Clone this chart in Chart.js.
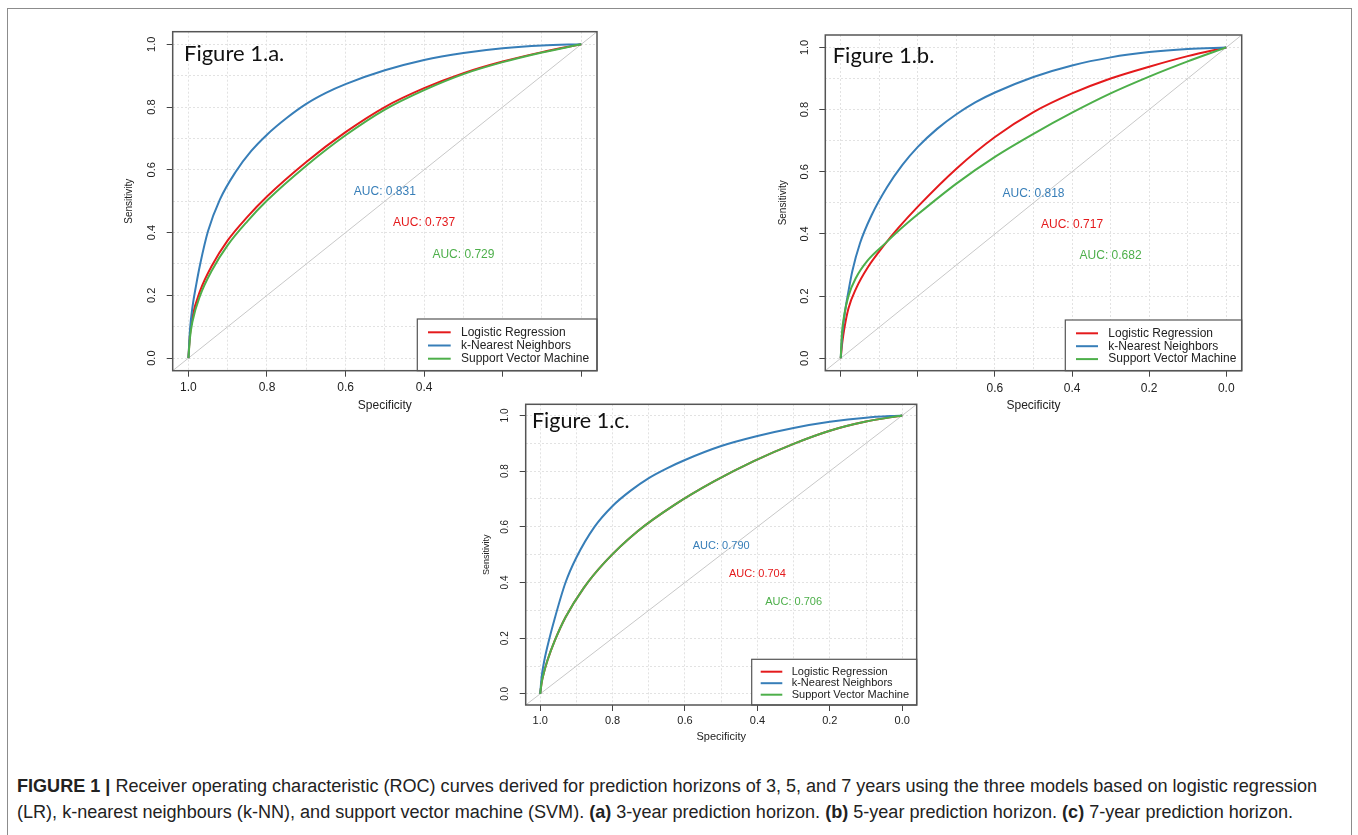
<!DOCTYPE html>
<html lang="en">
<head>
<meta charset="UTF-8">
<title>Figure 1 - ROC curves</title>
<script src="https://cdn.jsdelivr.net/npm/chart.js"></script>
<style>
  body {
    margin: 0;
    background: #fff;
    width: 1358px;
    height: 835px;
    overflow: hidden;
    position: relative;
    font-family: "Liberation Sans", Arial, sans-serif;
  }
  .frame {
    position: absolute;
    left: 7px;
    top: 8px;
    width: 1343px;
    height: 900px;
    border: 1px solid #8c8c8c;
  }
  canvas { position: absolute; }
  .caption {
    position: absolute;
    left: 17px;
    color: #222;
    white-space: nowrap;
    font-size: 16px;
    line-height: 26px;
  }
</style>
</head>
<body>
<div class="frame"></div>
<canvas id="figA"></canvas>
<canvas id="figB"></canvas>
<canvas id="figC"></canvas>
<div class="caption" id="cap1" style="top:773px"><b>FIGURE 1 |</b> Receiver operating characteristic (ROC) curves derived for prediction horizons of 3, 5, and 7 years using the three models based on logistic regression</div>
<div class="caption" id="cap2" style="top:799px">(LR), k-nearest neighbours (k-NN), and support vector machine (SVM). <b>(a)</b> 3-year prediction horizon. <b>(b)</b> 5-year prediction horizon. <b>(c)</b> 7-year prediction horizon.</div>

<script>
    const models = ['Logistic Regression', 'k-Nearest Neighbors', 'Support Vector Machine'];
    const colors = ['#e41a1c', '#377eb8', '#4daf4a'];

    // points are [specificity, sensitivity]
    const rocA_LR = [[1,0],[0.996,0.075],[0.99,0.13],[0.97,0.215],[0.94,0.295],[0.9,0.375],[0.85,0.45],[0.8,0.515],[0.7,0.625],[0.6,0.72],[0.5,0.8],[0.4,0.86],[0.3,0.908],[0.2,0.945],[0.1,0.975],[0,1]];
    const rocA_KNN = [[1,0],[0.996,0.09],[0.99,0.16],[0.98,0.235],[0.97,0.3],[0.95,0.405],[0.92,0.505],[0.88,0.593],[0.84,0.66],[0.8,0.712],[0.75,0.765],[0.7,0.81],[0.65,0.845],[0.6,0.873],[0.5,0.917],[0.4,0.95],[0.3,0.972],[0.2,0.987],[0.1,0.996],[0,1]];
    const rocA_SVM = [[1,0],[0.996,0.065],[0.99,0.115],[0.97,0.2],[0.94,0.28],[0.9,0.36],[0.85,0.436],[0.8,0.502],[0.7,0.613],[0.6,0.71],[0.5,0.792],[0.4,0.854],[0.3,0.905],[0.2,0.943],[0.1,0.974],[0,1]];
    const aucA = ['AUC: 0.737', 'AUC: 0.831', 'AUC: 0.729'];

    const rocB_LR = [[1,0],[0.996,0.05],[0.99,0.1],[0.98,0.16],[0.96,0.225],[0.93,0.292],[0.886,0.366],[0.85,0.42],[0.8,0.488],[0.7,0.61],[0.6,0.712],[0.5,0.792],[0.4,0.852],[0.3,0.9],[0.2,0.938],[0.1,0.972],[0,1]];
    const rocB_KNN = [[1,0],[0.996,0.077],[0.99,0.14],[0.98,0.215],[0.97,0.28],[0.95,0.37],[0.92,0.46],[0.88,0.55],[0.84,0.622],[0.8,0.68],[0.75,0.738],[0.7,0.785],[0.65,0.824],[0.6,0.855],[0.5,0.905],[0.4,0.942],[0.3,0.968],[0.2,0.985],[0.1,0.995],[0,1]];
    const rocB_SVM = [[1,0],[0.997,0.077],[0.99,0.145],[0.98,0.2],[0.96,0.26],[0.93,0.315],[0.886,0.368],[0.85,0.41],[0.8,0.463],[0.7,0.562],[0.6,0.648],[0.5,0.722],[0.4,0.79],[0.3,0.852],[0.2,0.906],[0.1,0.955],[0,1]];
    const aucB = ['AUC: 0.717', 'AUC: 0.818', 'AUC: 0.682'];

    const rocC_LR = [[1,0],[0.996,0.04],[0.99,0.075],[0.98,0.12],[0.96,0.19],[0.93,0.275],[0.88,0.38],[0.82,0.475],[0.73,0.585],[0.63,0.678],[0.52,0.763],[0.41,0.836],[0.3,0.898],[0.2,0.945],[0.1,0.978],[0,1]];
    const rocC_KNN = [[1,0],[0.996,0.06],[0.99,0.11],[0.98,0.17],[0.96,0.27],[0.93,0.4],[0.9,0.49],[0.85,0.6],[0.8,0.675],[0.75,0.73],[0.7,0.775],[0.65,0.81],[0.6,0.84],[0.5,0.89],[0.4,0.926],[0.3,0.955],[0.2,0.977],[0.1,0.992],[0,1]];
    const rocC_SVM = [[1,0],[0.996,0.04],[0.99,0.075],[0.98,0.12],[0.96,0.19],[0.93,0.275],[0.88,0.38],[0.82,0.475],[0.73,0.585],[0.63,0.678],[0.52,0.763],[0.41,0.836],[0.3,0.898],[0.2,0.945],[0.1,0.978],[0,1]];
    const aucC = ['AUC: 0.704', 'AUC: 0.790', 'AUC: 0.706'];

    // where the AUC texts sit, in data units (LR, kNN, SVM)
    const aucSpec = [0.4, 0.5, 0.3];
    const aucSens = [0.43, 0.53, 0.33];

    const diagonal = [[1.04,-0.04],[-0.04,1.04]];
    const gridValues = [0, 0.1, 0.2, 0.3, 0.4, 0.5, 0.6, 0.7, 0.8, 0.9, 1];
    const tickValues = [0, 0.2, 0.4, 0.6, 0.8, 1];
    const tickLabels = ['0.0', '0.2', '0.4', '0.6', '0.8', '1.0'];
    const xLabelsA = ['1.0', '0.8', '0.6', '0.4'];
    const xLabelsB = ['0.6', '0.4', '0.2', '0.0'];
    const xLabelsC = ['1.0', '0.8', '0.6', '0.4', '0.2', '0.0'];

    const family = '"Liberation Sans", Arial, sans-serif';
    const isMajor = v => Math.abs(v * 5 - Math.round(v * 5)) < 1e-6;

    const panels = [
        { id: 'figA', title: 'Figure 1.a.', roc: [rocA_LR, rocA_KNN, rocA_SVM], auc: aucA, xLabels: xLabelsA,
          box: { l: 172.7, t: 31.7, r: 597, b: 370.7 },
          font: 12, yFont: 11, yTitleFont: 10,
          xLabelY: 388, xTitleY: 406, yLabelX: 151.7, yTitleX: 129,
          fig: { dx: 11.3, dy: 29.3, size: 22 },
          leg: { w: 179.7, h: 51.7, y0: 13.3, row: 13.2, x0: 10.7, x1: 33.4, tx: 43.7 } },
        { id: 'figB', title: 'Figure 1.b.', roc: [rocB_LR, rocB_KNN, rocB_SVM], auc: aucB, xLabels: xLabelsB,
          box: { l: 825.3, t: 35, r: 1241.7, b: 370.7 },
          font: 12, yFont: 11, yTitleFont: 10,
          xLabelY: 388.3, xTitleY: 406, yLabelX: 805, yTitleX: 783.3,
          fig: { dx: 7.4, dy: 28.3, size: 22 },
          leg: { w: 176.4, h: 50.7, y0: 13.3, row: 12.9, x0: 10.7, x1: 32.7, tx: 43 } },
        { id: 'figC', title: 'Figure 1.c.', roc: [rocC_LR, rocC_KNN, rocC_SVM], auc: aucC, xLabels: xLabelsC,
          box: { l: 525.7, t: 404.3, r: 916.7, b: 705 },
          font: 11, yFont: 10, yTitleFont: 9,
          xLabelY: 721, xTitleY: 736.7, yLabelX: 505.7, yTitleX: 486.7,
          fig: { dx: 6.3, dy: 23.4, size: 21.5 },
          leg: { w: 165, h: 45.7, y0: 12.4, row: 11.5, x0: 9, x1: 30.6, tx: 40 } }
    ];

    function makeChart(p) {
        const cl = Math.round(p.box.l) - 70, ct = Math.round(p.box.t) - 22;
        const cr = Math.round(p.box.r) + 12, cb = Math.round(p.box.b) + 50;
        const cv = document.getElementById(p.id);
        cv.width = cr - cl;
        cv.height = cb - ct;
        cv.style.left = cl + 'px';
        cv.style.top = ct + 'px';

        const datasets = p.roc.map((pts, i) => ({
            label: models[i],
            data: pts.map(d => ({ x: d[0], y: d[1] })),
            showLine: true,
            borderColor: colors[i],
            borderWidth: 2,
            pointRadius: 0,
            cubicInterpolationMode: 'monotone',
            order: 2 - i
        }));
        datasets.push({
            label: 'chance',
            data: diagonal.map(d => ({ x: d[0], y: d[1] })),
            showLine: true,
            borderColor: '#c8c8c8',
            borderWidth: 1,
            pointRadius: 0,
            order: 3
        });

        const gridOpts = {
            color: '#e2e2e2',
            lineWidth: 1,
            tickLength: 6,
            tickWidth: 1,
            tickBorderDash: [],
            tickColor: c => (c.tick && isMajor(c.tick.value)) ? '#444' : 'rgba(0,0,0,0)'
        };

        // box, rotated y labels, AUC texts, legend and panel title
        const decor = {
            id: 'decor',
            afterDraw(chart) {
                const { ctx, chartArea: a, scales: { x, y } } = chart;
                ctx.save();
                ctx.textAlign = 'center';
                ctx.textBaseline = 'middle';

                ctx.font = p.font + 'px ' + family;
                p.auc.forEach((t, i) => {
                    ctx.fillStyle = colors[i];
                    ctx.fillText(t, x.getPixelForValue(aucSpec[i]), y.getPixelForValue(aucSens[i]));
                });

                ctx.fillStyle = '#222';
                ctx.font = p.yFont + 'px ' + family;
                tickValues.forEach((v, i) => {
                    ctx.save();
                    ctx.translate(p.yLabelX - cl, y.getPixelForValue(v));
                    ctx.rotate(-Math.PI / 2);
                    ctx.fillText(tickLabels[i], 0, 0);
                    ctx.restore();
                });

                const g = p.leg;
                const lx = a.right - g.w, ly = a.bottom - g.h;
                ctx.fillStyle = '#fff';
                ctx.fillRect(lx, ly, g.w, g.h);
                ctx.strokeStyle = '#555';
                ctx.lineWidth = 1.2;
                ctx.strokeRect(lx, ly, g.w, g.h);
                ctx.textAlign = 'left';
                ctx.font = p.font + 'px ' + family;
                models.forEach((m, i) => {
                    const yy = ly + g.y0 + i * g.row;
                    ctx.strokeStyle = colors[i];
                    ctx.lineWidth = 2;
                    ctx.beginPath();
                    ctx.moveTo(lx + g.x0, yy);
                    ctx.lineTo(lx + g.x1, yy);
                    ctx.stroke();
                    ctx.fillStyle = '#222';
                    ctx.fillText(m, lx + g.tx, yy);
                });

                ctx.strokeStyle = '#555';
                ctx.lineWidth = 1.5;
                ctx.strokeRect(a.left, a.top, a.right - a.left, a.bottom - a.top);

                ctx.fillStyle = '#111';
                ctx.textBaseline = 'alphabetic';
                ctx.font = p.fig.size + 'px Lato, "Open Sans", sans-serif';
                ctx.fillText(p.title, a.left + p.fig.dx, a.top + p.fig.dy);
                ctx.restore();
            }
        };

        return new Chart(cv, {
            type: 'scatter',
            data: { datasets: datasets },
            options: {
                responsive: false,
                animation: false,
                events: [],
                layout: { padding: { left: 0, bottom: 0, top: p.box.t - ct, right: cr - p.box.r } },
                plugins: { legend: { display: false }, tooltip: { enabled: false } },
                scales: {
                    x: {
                        type: 'linear',
                        reverse: true,
                        min: -0.04,
                        max: 1.04,
                        afterBuildTicks: s => { s.ticks = gridValues.map(v => ({ value: v })); },
                        afterFit: s => { s.height = cb - p.box.b; },
                        ticks: {
                            autoSkip: false,
                            maxRotation: 0,
                            minRotation: 0,
                            padding: p.xLabelY - p.box.b - 6 - p.font * 0.6,
                            color: '#222',
                            font: { family: family, size: p.font },
                            callback: v => {
                                const s = Number(v).toFixed(1);
                                return isMajor(v) && p.xLabels.includes(s) ? s : '';
                            }
                        },
                        grid: gridOpts,
                        border: { display: false, dash: [2, 2] },
                        title: {
                            display: true,
                            text: 'Specificity',
                            color: '#222',
                            font: { family: family, size: p.font },
                            padding: { top: 0, bottom: cb - p.xTitleY - p.font * 0.6 }
                        }
                    },
                    y: {
                        type: 'linear',
                        min: -0.04,
                        max: 1.04,
                        afterBuildTicks: s => { s.ticks = gridValues.map(v => ({ value: v })); },
                        afterFit: s => { s.width = p.box.l - cl; },
                        ticks: { display: false },
                        grid: gridOpts,
                        border: { display: false, dash: [2, 2] },
                        title: {
                            display: true,
                            text: 'Sensitivity',
                            color: '#222',
                            font: { family: family, size: p.yTitleFont },
                            padding: { top: p.yTitleX - cl - p.yTitleFont * 0.6, bottom: 0 }
                        }
                    }
                }
            },
            plugins: [decor]
        });
    }

    panels.forEach(makeChart);

    // stretch the caption so the first line ends where it does in the figure
    const cap1 = document.getElementById('cap1');
    const cap2 = document.getElementById('cap2');
    const size = 16 * 1301 / cap1.getBoundingClientRect().width;
    cap1.style.fontSize = size + 'px';
    cap2.style.fontSize = size + 'px';
</script>
</body>
</html>
